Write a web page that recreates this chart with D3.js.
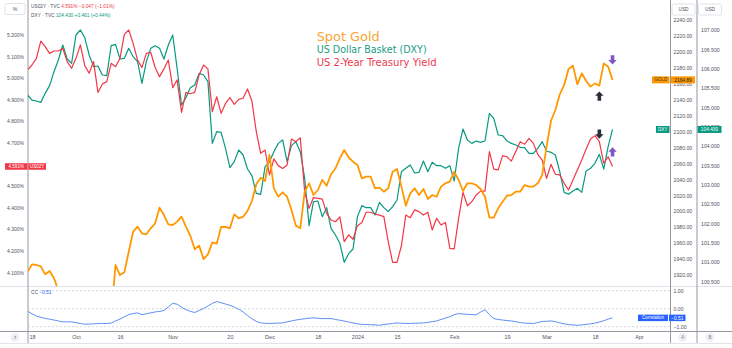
<!DOCTYPE html>
<html><head><meta charset="utf-8">
<script src="https://cdn.jsdelivr.net/npm/d3@7"></script>
<style>
body{margin:0;background:#fff}
svg{display:block}
text{font-family:"Liberation Sans",Arial,sans-serif}
</style>
</head><body>
<svg id="c" width="732" height="348"></svg>
<script>
// ---- data (one value per trading day, 15 Sep 2023 .. 22 Mar 2024) ----
const goldValues = [1924.2,1933.4,1932.6,1930.9,1920.9,1925.1,1915.9,1900.5,1875.0,1864.0,1848.0,1828.0,1822.0,1821.0,1820.0,1833.0,1861.0,1861.0,1874.0,1868.0,
1932.6,1920.0,1923.4,1949.3,1974.4,1980.7,1972.3,1971.1,1978.6,1984.9,2004.5,1995.3,1983.6,1982.8,1987.0,1993.2,1980.7,1969.4,1952.3,1956.9,
1940.1,1946.0,1961.0,1959.4,1980.3,1980.3,1978.6,1996.2,1991.2,1993.2,2000.4,2012.9,2033.8,2042.2,2038.0,2070.6,2028.8,2018.3,2023.8,2018.3,
2001.6,1982.0,1978.6,2024.6,2035.1,2020.4,2026.7,2039.3,2032.1,2046.4,2053.9,2066.4,2076.9,2067.5,2062.2,2058.1,2041.3,2043.4,2043.4,2028.8,
2029.6,2024.6,2028.8,2049.7,2053.0,2030.9,2007.0,2022.5,2028.8,2020.4,2028.0,2015.4,2020.4,2018.3,2030.9,2035.1,2037.2,2049.7,2039.3,2025.4,
2035.1,2035.1,2033.0,2028.0,2018.3,1992.0,1992.0,2003.7,2012.0,2019.6,2020.4,2024.6,2024.6,2033.0,2030.9,2030.9,2035.1,2045.5,2081.1,2113.3,
2127.1,2146.7,2158.4,2178.5,2182.7,2159.3,2173.1,2163.5,2156.4,2160.5,2157.6,2185.6,2181.4,2164.89];

const dxyValues = [105.320,105.190,105.166,105.130,105.363,105.562,105.923,106.225,106.612,106.250,106.139,106.871,107.000,106.802,106.354,106.053,106.070,105.837,105.820,106.595,
106.630,106.250,106.268,106.526,106.310,106.182,105.622,106.182,106.526,106.595,106.526,106.250,106.612,106.871,106.010,105.062,105.250,105.510,105.579,105.880,
105.837,105.665,104.071,104.373,104.356,103.942,103.443,103.598,103.899,103.770,103.408,103.236,102.779,102.754,103.469,103.598,103.856,104.071,104.158,103.598,
104.011,104.115,103.856,103.167,101.944,102.564,102.581,102.177,102.409,101.875,101.703,101.488,100.997,101.220,101.341,102.177,102.461,102.409,102.409,102.220,
102.547,102.409,102.306,102.435,102.607,103.339,103.426,103.512,103.305,103.322,103.615,103.339,103.581,103.494,103.494,103.426,103.494,103.098,103.942,104.442,
104.158,104.071,104.132,104.097,104.132,104.847,104.717,104.287,104.270,104.132,104.071,104.029,103.968,103.960,103.813,103.813,103.942,104.115,103.873,103.839,
103.770,103.339,102.805,102.754,102.840,102.909,102.805,103.357,103.426,103.555,103.787,103.408,103.985,104.430];

const yieldValues = [5.038,5.061,5.092,5.172,5.146,5.115,5.126,5.126,5.138,5.077,5.046,5.092,5.154,5.058,5.023,5.077,4.934,4.973,4.984,5.069,
5.053,5.092,5.203,5.223,5.161,5.084,5.049,5.115,5.120,5.049,5.007,5.043,5.084,4.956,4.992,4.842,4.934,4.928,4.934,5.015,
5.061,5.043,4.845,4.914,4.837,4.883,4.910,4.879,4.902,4.907,4.950,4.894,4.752,4.652,4.667,4.552,4.626,4.595,4.582,4.598,
4.718,4.706,4.724,4.474,4.397,4.447,4.443,4.440,4.374,4.343,4.335,4.358,4.243,4.274,4.254,4.317,4.332,4.379,4.379,4.371,
4.366,4.359,4.243,4.147,4.147,4.224,4.366,4.354,4.390,4.382,4.366,4.379,4.297,4.351,4.320,4.332,4.212,4.209,4.351,4.471,
4.409,4.428,4.459,4.477,4.477,4.660,4.579,4.575,4.641,4.636,4.616,4.660,4.706,4.694,4.721,4.698,4.647,4.621,4.536,4.601,
4.555,4.552,4.513,4.482,4.528,4.575,4.621,4.672,4.718,4.734,4.706,4.606,4.636,4.591];

const ccValues = [-0.14,-0.28,-0.41,-0.48,-0.54,-0.58,-0.63,-0.68,-0.73,-0.73,-0.73,-0.78,-0.82,-0.86,-0.85,-0.84,-0.83,-0.82,-0.82,-0.80,
-0.68,-0.58,-0.45,-0.33,-0.27,-0.23,-0.33,-0.28,-0.23,-0.18,-0.15,-0.10,0.10,0.30,0.25,0.08,-0.05,-0.15,-0.21,-0.10,
0.01,0.15,0.30,0.40,0.33,0.26,0.19,0.09,-0.03,-0.18,-0.38,-0.56,-0.70,-0.79,-0.81,-0.82,-0.81,-0.80,-0.79,-0.73,
-0.68,-0.63,-0.59,-0.56,-0.53,-0.51,-0.53,-0.55,-0.55,-0.55,-0.60,-0.64,-0.69,-0.74,-0.79,-0.84,-0.87,-0.88,-0.89,-0.90,
-0.92,-0.88,-0.85,-0.82,-0.79,-0.81,-0.82,-0.82,-0.81,-0.80,-0.79,-0.76,-0.72,-0.68,-0.60,-0.52,-0.45,-0.33,-0.27,-0.30,
-0.31,-0.33,-0.34,-0.19,-0.05,-0.33,-0.55,-0.60,-0.63,-0.66,-0.68,-0.72,-0.77,-0.80,-0.81,-0.82,-0.77,-0.71,-0.70,-0.68,
-0.72,-0.79,-0.84,-0.88,-0.90,-0.92,-0.90,-0.87,-0.84,-0.80,-0.74,-0.67,-0.58,-0.51];

const xTickIndex  = [1,11,21,33,46,55,66,75,84,97,109,118,129,139];
const xTickLabels = ["18","Oct","16","Nov","20","Dec","18","2024","15","Feb","19","Mar","18","Apr"];
const goldTicks  = [1920,1940,1960,1980,2000,2020,2040,2060,2080,2100,2120,2140,2160,2180,2200,2220,2240];
const dxyTicks   = [100.5,101,101.5,102,102.5,103,103.5,104,104.5,105,105.5,106,106.5,107];
const yieldTicks = [4.1,4.2,4.3,4.4,4.5,4.7,4.8,4.9,5.0,5.1,5.2];
const ccTicks    = [1,0,-1];
const titles = ["Spot Gold","US Dollar Basket (DXY)","US 2-Year Treasury Yield"];
const signalIndex = [133,130,130,133];
const signalValue = [2190,2144.6,104.31,103.85];
const signalAxis  = ["gold","gold","dxy","dxy"];
const signalDir   = ["down","up","down","up"];
const signalColor = ["#7e57c2","#2a2e39","#2a2e39","#7e57c2"];

// ---- colours ----
const GOLD="#ff9800", TEAL="#089981", RED="#f23645", BLUE="#2962ff", CCLINE="#5d8ff2";
const TXT="#50535e", GRID="#e0e3eb", AXIS="#9598a1";

const svg = d3.select("#c");
const L=28, R=670.5, R2=697, TOP=0, MAINB=286, CCB=331.5, BOT=343;

const x = d3.scaleLinear().domain([0,139]).range([27.6, 27.6+4.398*139]);
const yGold = d3.scaleLinear().domain([1920,2240]).range([275.04,20]);
const yDxy = d3.scaleLinear().domain([100.5,107]).range([281.55,30]);
const yYld = d3.scaleLinear().domain([4.1,5.2]).range([272.5,35]);
const yCC = d3.scaleLinear().domain([-1,1]).range([326.7,290.7]);

const defs = svg.append("defs");
defs.append("clipPath").attr("id","cm").append("rect").attr("x",L).attr("y",TOP).attr("width",R-L).attr("height",MAINB-TOP);
defs.append("clipPath").attr("id","cc").append("rect").attr("x",L).attr("y",MAINB).attr("width",R-L).attr("height",CCB-MAINB);

// frame lines
const fr = svg.append("g");
fr.append("line").attr("x1",0).attr("x2",732).attr("y1",MAINB+0.5).attr("y2",MAINB+0.5).attr("stroke",GRID);
fr.append("line").attr("x1",0).attr("x2",732).attr("y1",CCB).attr("y2",CCB).attr("stroke",AXIS);
fr.append("line").attr("x1",0).attr("x2",732).attr("y1",BOT+0.5).attr("y2",BOT+0.5).attr("stroke",GRID);
[L, R, R2].forEach(v=>fr.append("line").attr("x1",v).attr("x2",v).attr("y1",0).attr("y2",BOT).attr("stroke",AXIS));

// CC dashed lines
svg.append("g").selectAll("line").data(ccTicks).join("line")
  .attr("x1",L).attr("x2",R).attr("y1",d=>yCC(d)).attr("y2",d=>yCC(d))
  .attr("stroke","#c9ccd4").attr("stroke-dasharray","2,2").attr("stroke-width",0.8);

// lines
const line = (ys, arr)=> d3.line().x((d,i)=>x(i)).y(d=>ys(d))(arr);
const gm = svg.append("g").attr("clip-path","url(#cm)");
gm.append("path").attr("d",line(yDxy,dxyValues)).attr("fill","none").attr("stroke",TEAL).attr("stroke-width",1.2).attr("stroke-linejoin","round");
gm.append("path").attr("d",line(yYld,yieldValues)).attr("fill","none").attr("stroke",RED).attr("stroke-width",1.2).attr("stroke-linejoin","round");
gm.append("path").attr("d",line(yGold,goldValues)).attr("fill","none").attr("stroke",GOLD).attr("stroke-width",1.8).attr("stroke-linejoin","round");
svg.append("g").attr("clip-path","url(#cc)").append("path").attr("d",line(yCC,ccValues))
  .attr("fill","none").attr("stroke",CCLINE).attr("stroke-width",1);

// signal arrows
const scaleOf = {gold:yGold, dxy:yDxy};
signalIndex.forEach((idx,k)=>{
  const cx=x(idx), cy=scaleOf[signalAxis[k]](signalValue[k]);
  const s = signalDir[k]==="up"?1:-1;
  const p = `M${cx},${cy-4.6*s} L${cx+4.2},${cy-0.2*s} L${cx+1.8},${cy-0.2*s} L${cx+1.8},${cy+4.6*s} L${cx-1.8},${cy+4.6*s} L${cx-1.8},${cy-0.2*s} L${cx-4.2},${cy-0.2*s} Z`;
  svg.append("path").attr("d",p).attr("fill",signalColor[k]);
});

// axes
function styleAxis(g, fs){
  g.select(".domain").remove();
  g.selectAll(".tick line").remove();
  g.selectAll("text").attr("fill",TXT).style("font-size",fs+"px").style("font-family","Liberation Sans, Arial, sans-serif");
}
svg.append("g").attr("transform",`translate(${R},0)`)
  .call(d3.axisRight(yGold).tickValues(goldTicks).tickSize(0).tickPadding(3).tickFormat(d3.format(".2f")))
  .call(g=>styleAxis(g,5.2));
svg.append("g").attr("transform",`translate(${R2},0)`)
  .call(d3.axisRight(yDxy).tickValues(dxyTicks).tickSize(0).tickPadding(4).tickFormat(d3.format(".3f")))
  .call(g=>styleAxis(g,5.2));
svg.append("g").attr("transform",`translate(${L},0)`)
  .call(d3.axisLeft(yYld).tickValues(yieldTicks).tickSize(0).tickPadding(4).tickFormat(d=>d3.format(".3f")(d)+"%"))
  .call(g=>styleAxis(g,5));
svg.append("g").attr("transform",`translate(${R},0)`)
  .call(d3.axisRight(yCC).tickValues(ccTicks).tickSize(0).tickPadding(3).tickFormat(d3.format(".2f")))
  .call(g=>styleAxis(g,5.2));
svg.append("g").attr("transform",`translate(0,${CCB})`)
  .call(d3.axisBottom(x).tickValues(xTickIndex).tickSize(0).tickPadding(3.5).tickFormat((d,i)=>xTickLabels[i]))
  .call(g=>styleAxis(g,5.5));

// boxes
function box(x0,w,cy,h,bg,txt,col,fs,stroke){
  const g=svg.append("g");
  g.append("rect").attr("x",x0).attr("y",cy-h/2).attr("width",w).attr("height",h).attr("fill",bg)
    .attr("stroke",stroke||"none").attr("rx",stroke?1.5:0);
  g.append("text").attr("x",x0+w/2).attr("y",cy).attr("dy","0.35em").attr("text-anchor","middle")
    .attr("fill",col).style("font-size",fs+"px").text(txt);
}
const yl = yYld(yieldValues[yieldValues.length-1]);
box(5,22.5,yl,6.5,RED,d3.format(".3f")(yieldValues[yieldValues.length-1])+"%","#fff",4.6);
box(28.3,17.7,yl,6.5,RED,"US02Y","#fff",4.6);
const yg = yGold(goldValues[goldValues.length-1]);
box(652,17.5,yg,7,GOLD,"GOLD","#3a3a3a",4.6);
box(671,24,yg,7,GOLD,d3.format(".2f")(goldValues[goldValues.length-1]),"#222",4.8);
const yd = yDxy(dxyValues[dxyValues.length-1]);
box(656,13.5,yd,7,TEAL,"DXY","#fff",4.6);
box(697.5,24,yd,7,TEAL,d3.format(".3f")(dxyValues[dxyValues.length-1]),"#fff",4.8);
const yc = yCC(ccValues[ccValues.length-1]);
box(638,30,yc,6.5,BLUE,"Correlation","#fff",4.5);
box(669,16.5,yc,6.5,BLUE,d3.format(".2f")(ccValues[ccValues.length-1]),"#fff",4.8);
box(5,20,9,11,"#fff","%",TXT,5,"#e0e3eb");
box(672,23,9.5,11,"#fff","USD",TXT,4.8,"#e0e3eb");
box(698.5,23,9.5,11,"#fff","USD",TXT,4.8,"#e0e3eb");

// bottom circles
[[15,"z"],[682.7,"A"],[710,"B"]].forEach(([cx,t])=>{
  svg.append("circle").attr("cx",cx).attr("cy",337.3).attr("r",4.5).attr("fill","#eef0f4");
  svg.append("text").attr("x",cx).attr("y",337.3).attr("dy","0.35em").attr("text-anchor","middle")
    .attr("fill","#787b86").style("font-size","4.5px").text(t);
});

// legend
function legendLine(y, parts){
  let t = svg.append("text").attr("x",31).attr("y",y).attr("dy","0.35em").style("font-size","4.8px");
  parts.forEach(([s,c])=>t.append("tspan").attr("fill",c).text(s));
}
legendLine(6.8,[["US02Y · TVC  ",TXT],["4.591%  ",RED],["−0.047 (−1.01%)",RED]]);
legendLine(15.8,[["DXY · TVC  ",TXT],["104.430  ",TEAL],["+0.461 (+0.44%)",TEAL]]);
const ccl = svg.append("text").attr("x",31).attr("y",292.7).attr("dy","0.35em").style("font-size","4.8px");
ccl.append("tspan").attr("fill",TXT).text("CC  ");
ccl.append("tspan").attr("fill",BLUE).text(d3.format(".2f")(ccValues[ccValues.length-1]));

// titles
const tcol=["#f7a531","#1a9c85","#f0394f"], tsize=[12.5,10,10], tlen=[63,110,120], ty=[40.5,53.3,65.7];
titles.forEach((t,i)=>{
  svg.append("text").attr("x",316.7).attr("y",ty[i]).attr("fill",tcol[i])
    .style("font-family","DejaVu Sans, sans-serif").style("font-size",tsize[i]+"px")
    .attr("textLength",tlen[i]).attr("lengthAdjust","spacingAndGlyphs").text(t);
});
</script>
</body></html>
